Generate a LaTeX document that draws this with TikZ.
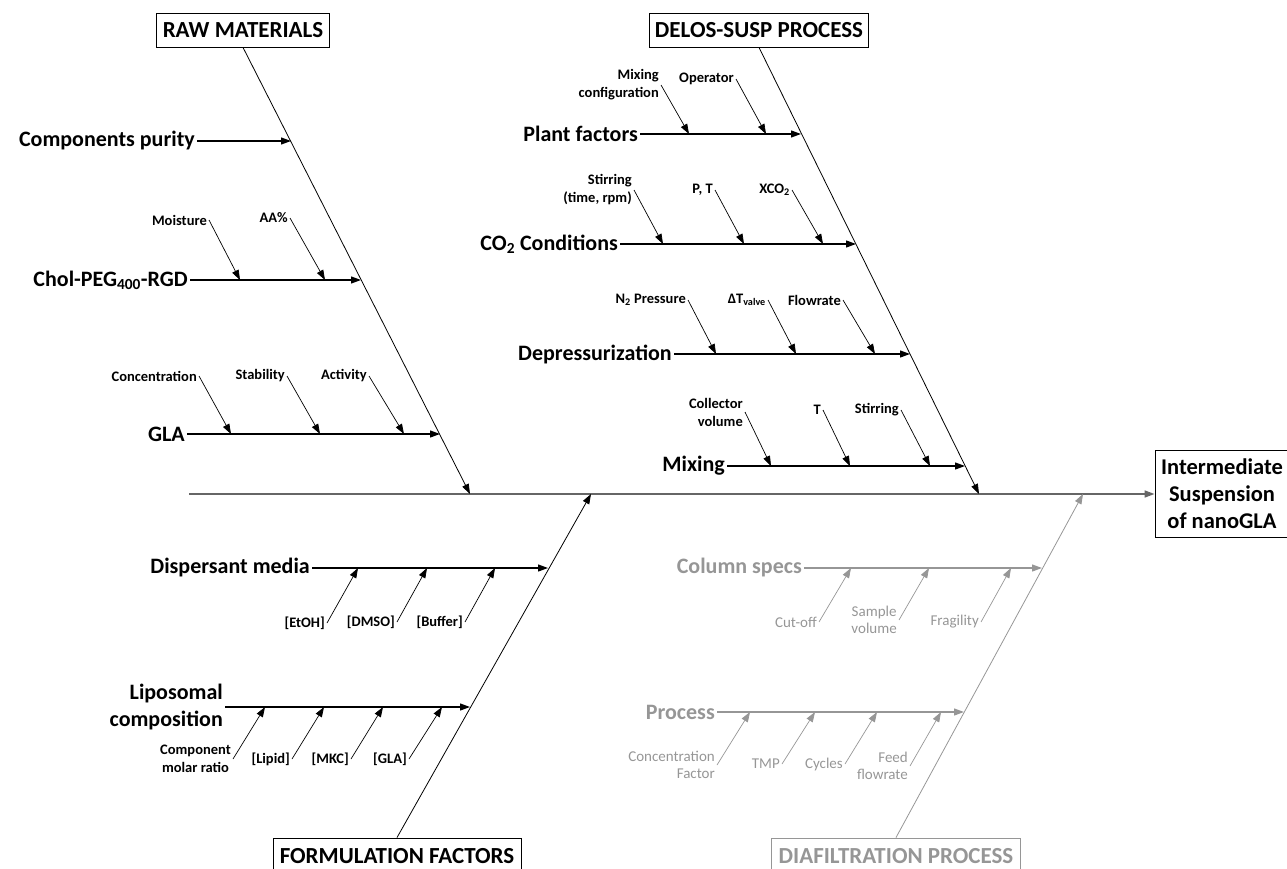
\documentclass[tikz,border=0pt]{standalone}
\usepackage{fontspec}
\setmainfont{Carlito}
\usetikzlibrary{arrows.meta, calc, positioning}
\definecolor{diagrey}{RGB}{150,150,150}
\tikzstyle{catbox} = [rectangle, draw=black, line width=0.9pt, minimum height=34pt, inner sep=3pt, font=\fontsize{23}{27}\selectfont\bfseries]
\tikzstyle{cause} = [anchor=east, inner sep=2pt, align=right, font=\fontsize{22}{27}\selectfont\bfseries]
\tikzstyle{subcause} = [anchor=east, inner sep=2pt, align=right, font=\fontsize{14.5}{18}\selectfont\bfseries]
\tikzstyle{greysub} = [anchor=east, inner sep=2pt, align=right, text=diagrey, font=\fontsize{15}{17.5}\selectfont]
\tikzstyle{greyed} = [draw=diagrey, text=diagrey]
\tikzstyle{mainline} = [line width=1.6pt, draw=black!60, ->]
\tikzstyle{spine} = [line width=0.8pt, ->]
\tikzstyle{branch} = [line width=1.2pt, ->]
\tikzstyle{twig} = [line width=0.7pt, ->]

\begin{document}
\begin{tikzpicture}[x=1pt, y=-1pt, >={Triangle[length=10pt,width=7pt]}]
    \useasboundingbox (0,0) rectangle (1287,869);
    \node (raw) [catbox, minimum width=173pt] at (243,30) {RAW MATERIALS};
    \node (delos) [catbox, minimum width=219pt] at (759,30) {DELOS-SUSP PROCESS};
    \node (form) [catbox, minimum width=248pt, minimum height=36pt] at (397,856) {FORMULATION FACTORS};
    \node (dia) [catbox, greyed, minimum width=249pt, minimum height=36pt] at (896,856) {DIAFILTRATION PROCESS};
    \node (result) [catbox, align=center, minimum width=134pt, minimum height=87pt, font=\fontsize{22.5}{27}\selectfont\bfseries] at (1222,494) {Intermediate\\Suspension\\of nanoGLA};
    \coordinate (mainS) at (189,494);
    \coordinate (rawE) at (470,494);
    \coordinate (delosE) at (979,494);
    \coordinate (formE) at (591,494);
    \coordinate (diaE) at (1083,494);
    \draw [mainline] (mainS) -- (result.west);
    \draw [spine] (raw.south) -- (rawE);
    \draw [spine] (delos.south) -- (delosE);
    \draw [spine] (form.north) -- (formE);
    \draw [spine, diagrey] (dia.north) -- (diaE);

    \node (cpur) [cause] at (197,141) {Components purity};
    \node (chol) [cause] at (190,280) {Chol-PEG\textsubscript{400}-RGD};
    \node (gla) [cause] at (187,434) {GLA};
    \coordinate (cpurE) at (291,141);
    \coordinate (cholE) at (361,280);
    \coordinate (glaE) at (440,434);
    \draw [branch] (cpur.east) -- (cpurE);
    \draw [branch] (chol.east) -- (cholE);
    \draw [branch] (gla.east) -- (glaE);
    \node (moist) [subcause] at (209,220) {Moisture};
    \node (aa) [subcause] at (290,218) {AA\%};
    \node (conc) [subcause] at (199,376) {Concentration};
    \node (stab) [subcause] at (287,376) {Stability};
    \node (act) [subcause] at (369,376) {Activity};
    \coordinate (moistE) at (240,280);
    \coordinate (aaE) at (325,280);
    \coordinate (concE) at (231,434);
    \coordinate (stabE) at (320,434);
    \coordinate (actE) at (404,434);
    \draw [twig] (moist.east) -- (moistE);
    \draw [twig] (aa.east) -- (aaE);
    \draw [twig] (conc.east) -- (concE);
    \draw [twig] (stab.east) -- (stabE);
    \draw [twig] (act.east) -- (actE);

    \node (plant) [cause] at (640,134) {Plant factors};
    \node (cotwo) [cause] at (620,244) {CO\textsubscript{2} Conditions};
    \node (depr) [cause] at (674,354) {Depressurization};
    \node (mix) [cause] at (727,466) {Mixing};
    \coordinate (plantE) at (801,134);
    \coordinate (cotwoE) at (856,244);
    \coordinate (deprE) at (910,354);
    \coordinate (mixE) at (965,466);
    \draw [branch] (plant.east) -- (plantE);
    \draw [branch] (cotwo.east) -- (cotwoE);
    \draw [branch] (depr.east) -- (deprE);
    \draw [branch] (mix.east) -- (mixE);
    \node (mixcfg) [subcause] at (661,85) {Mixing\\configuration};
    \node (oper) [subcause] at (736,79) {Operator};
    \node (stirt) [subcause] at (634,190) {Stirring\\(time, rpm)};
    \node (pt) [subcause] at (715,190) {P, T};
    \node (xco) [subcause] at (792,190) {XCO\textsubscript{2}};
    \node (ntwo) [subcause] at (688,300) {N\textsubscript{2} Pressure};
    \node (dtv) [subcause] at (768,300) {ΔT\textsubscript{valve}};
    \node (flow) [subcause] at (843,300) {Flowrate};
    \node (coll) [subcause] at (745,412) {Collector\\volume};
    \node (temp) [subcause] at (823,410) {T};
    \node (stir) [subcause] at (901,410) {Stirring};
    \coordinate (mixcfgE) at (689,134);
    \coordinate (operE) at (766,134);
    \coordinate (stirtE) at (663,244);
    \coordinate (ptE) at (744,244);
    \coordinate (xcoE) at (823,244);
    \coordinate (ntwoE) at (716,354);
    \coordinate (dtvE) at (796,354);
    \coordinate (flowE) at (875,354);
    \coordinate (collE) at (771,466);
    \coordinate (tempE) at (850,466);
    \coordinate (stirE) at (930,466);
    \draw [twig] (mixcfg.east) -- (mixcfgE);
    \draw [twig] (oper.east) -- (operE);
    \draw [twig] (stirt.east) -- (stirtE);
    \draw [twig] (pt.east) -- (ptE);
    \draw [twig] (xco.east) -- (xcoE);
    \draw [twig] (ntwo.east) -- (ntwoE);
    \draw [twig] (dtv.east) -- (dtvE);
    \draw [twig] (flow.east) -- (flowE);
    \draw [twig] (coll.east) -- (collE);
    \draw [twig] (temp.east) -- (tempE);
    \draw [twig] (stir.east) -- (stirE);

    \node (disp) [cause] at (312,568) {Dispersant media};
    \node (lipo) [cause] at (225,707) {Liposomal\\composition};
    \coordinate (dispE) at (548,568);
    \coordinate (lipoE) at (470,707);
    \draw [branch] (disp.east) -- (dispE);
    \draw [branch] (lipo.east) -- (lipoE);
    \node (etoh) [subcause] at (327,623) {[EtOH]};
    \node (dmso) [subcause] at (397,622) {[DMSO]};
    \node (buff) [subcause] at (465,622) {[Buffer]};
    \node (cmr) [subcause, align=center] at (233,759) {Component\\molar ratio};
    \node (lipid) [subcause] at (292,759) {[Lipid]};
    \node (mkc) [subcause] at (351,759) {[MKC]};
    \node (glasub) [subcause] at (409,759) {[GLA]};
    \coordinate (etohE) at (358,568);
    \coordinate (dmsoE) at (427,568);
    \coordinate (buffE) at (495,568);
    \coordinate (cmrE) at (265,707);
    \coordinate (lipidE) at (324,707);
    \coordinate (mkcE) at (383,707);
    \coordinate (glasubE) at (442,707);
    \draw [twig] (etoh.east) -- (etohE);
    \draw [twig] (dmso.east) -- (dmsoE);
    \draw [twig] (buff.east) -- (buffE);
    \draw [twig] (cmr.east) -- (cmrE);
    \draw [twig] (lipid.east) -- (lipidE);
    \draw [twig] (mkc.east) -- (mkcE);
    \draw [twig] (glasub.east) -- (glasubE);

    \node (colsp) [cause, text=diagrey] at (804,568) {Column specs};
    \node (proc) [cause, text=diagrey] at (717,712) {Process};
    \coordinate (colspE) at (1042,568);
    \coordinate (procE) at (964,712);
    \draw [branch, diagrey] (colsp.east) -- (colspE);
    \draw [branch, diagrey] (proc.east) -- (procE);
    \node (cut) [greysub] at (819,622) {Cut-off};
    \node (samp) [greysub, align=center] at (899,620) {Sample\\volume};
    \node (frag) [greysub] at (981,622) {Fragility};
    \node (cf) [greysub] at (717,765) {Concentration\\Factor};
    \node (tmp) [greysub] at (782,764) {TMP};
    \node (cyc) [greysub] at (845,764) {Cycles};
    \node (feed) [greysub] at (910,766) {Feed\\flowrate};
    \coordinate (cutE) at (851,568);
    \coordinate (sampE) at (929,568);
    \coordinate (fragE) at (1011,568);
    \coordinate (cfE) at (750,712);
    \coordinate (tmpE) at (815,712);
    \coordinate (cycE) at (877,712);
    \coordinate (feedE) at (941,712);
    \draw [twig, diagrey] (cut.east) -- (cutE);
    \draw [twig, diagrey] (samp.east) -- (sampE);
    \draw [twig, diagrey] (frag.east) -- (fragE);
    \draw [twig, diagrey] (cf.east) -- (cfE);
    \draw [twig, diagrey] (tmp.east) -- (tmpE);
    \draw [twig, diagrey] (cyc.east) -- (cycE);
    \draw [twig, diagrey] (feed.east) -- (feedE);
\end{tikzpicture}
\end{document}
